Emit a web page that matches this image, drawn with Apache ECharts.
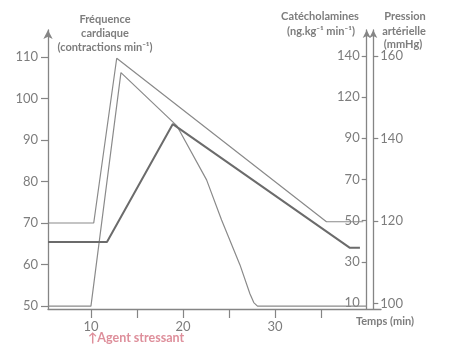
<!DOCTYPE html>
<html>
<head>
<meta charset="utf-8">
<script src="https://cdn.jsdelivr.net/npm/echarts@6/dist/echarts.min.js"></script>
<style>html,body{margin:0;padding:0;background:#fff;}#c{width:450px;height:355px;}</style>
</head>
<body>
<div id="c"></div>
<script>
// ---- data ----
const timeHR = [5.33, 10.3, 12.8, 35.6, 39.6];
const heartRate = [70, 70, 109.7, 70.3, 70.3];

const timeCat = [5.33, 10.0, 13.26, 19.35, 22.57, 24.2, 26.2, 27.28, 27.7, 28.1, 40.0];
const catecholamines = [8.5, 8.5, 121.9, 96.0, 69.8, 50.3, 28.5, 14.5, 10.2, 8.5, 8.5];

const timeBP = [5.33, 11.74, 18.9, 38.15, 39.24];
const pressure = [114.9, 114.9, 143.5, 113.5, 113.5];

// ---- tick labels ----
const timeTicks = [10, 15, 20, 25, 30, 35];
const timeLabels = [10, 20, 30];
const hrTicks = [50, 60, 70, 80, 90, 100, 110];
const catTickValues = [10, 30, 50, 70, 90, 110, 130];
const catTickLabels = ['10', '30', '50', '70', '90', '120', '140'];
const bpTicks = [100, 120, 140, 160];

const zip = (a, b) => a.map((v, i) => [v, b[i]]);

const grey = '#858585';
const txt = '#7d7d7d';
const font = 'Lato, "Noto Sans", sans-serif';

const chart = echarts.init(document.getElementById('c'), null, {renderer: 'canvas'});

const axisLineStyle = {color: grey, width: 1.3};

chart.setOption({
  animation: false,
  backgroundColor: '#fff',
  grid: {left: 48, top: 30, right: 69, bottom: 46, containLabel: false},
  xAxis: {
    type: 'value', min: 5.33, max: 41.53,
    axisLine: {show: true, onZero: false, lineStyle: axisLineStyle},
    axisTick: {show: true, length: 9, customValues: timeTicks, lineStyle: {color: grey, width: 1.2}},
    axisLabel: {customValues: timeLabels, color: txt, fontSize: 13, fontFamily: font, margin: 11},
    splitLine: {show: false}
  },
  yAxis: [
    {
      type: 'value', position: 'left', min: 49.28, max: 116.5,
      axisLine: {show: true, onZero: false, symbol: ['none', 'arrow'], symbolSize: [7, 9], lineStyle: axisLineStyle},
      axisTick: {show: true, length: 7, customValues: hrTicks, lineStyle: {color: grey, width: 1.2}},
      axisLabel: {customValues: hrTicks, color: txt, fontSize: 13, fontFamily: font, margin: 10},
      splitLine: {show: false}
    },
    {
      type: 'value', position: 'left', offset: -318.7, min: 7.08, max: 142.6,
      axisLine: {show: true, onZero: false, symbol: ['none', 'arrow'], symbolSize: [6, 8], lineStyle: axisLineStyle},
      axisTick: {show: true, length: 5, customValues: catTickValues.slice(1), lineStyle: {color: grey, width: 1.2}},
      axisLabel: {
        customValues: catTickValues, color: txt, fontSize: 13, fontFamily: font, margin: 7,
        formatter: v => catTickLabels[catTickValues.indexOf(Math.round(v))]
      },
      splitLine: {show: false}
    },
    {
      type: 'value', position: 'right', offset: -7.7, min: 98.67, max: 166.3,
      axisLine: {show: true, onZero: false, symbol: ['none', 'arrow'], symbolSize: [6, 8], lineStyle: axisLineStyle},
      axisTick: {show: true, length: 5, customValues: bpTicks, lineStyle: {color: grey, width: 1.2}},
      axisLabel: {customValues: bpTicks, color: txt, fontSize: 13, fontFamily: font, margin: 7},
      splitLine: {show: false}
    }
  ],
  series: [
    {
      name: 'Fréquence cardiaque', type: 'line', yAxisIndex: 0,
      data: zip(timeHR, heartRate), showSymbol: false,
      lineStyle: {color: '#8a8a8a', width: 1.2}
    },
    {
      name: 'Catécholamines', type: 'line', yAxisIndex: 1,
      data: zip(timeCat, catecholamines), showSymbol: false,
      lineStyle: {color: '#8a8a8a', width: 1.2}
    },
    {
      name: 'Pression artérielle', type: 'line', yAxisIndex: 2,
      data: zip(timeBP, pressure), showSymbol: false,
      lineStyle: {color: '#6b6b6b', width: 2}
    }
  ],
  graphic: [
    {type: 'text', style: {x: 105, y: 19, text: 'Fréquence', fill: txt, font: 'bold 11px ' + font, textAlign: 'center', textVerticalAlign: 'middle'}},
    {type: 'text', style: {x: 105, y: 33, text: 'cardiaque', fill: txt, font: 'bold 11px ' + font, textAlign: 'center', textVerticalAlign: 'middle'}},
    {type: 'text', style: {x: 105, y: 47, text: '(contractions min⁻¹)', fill: txt, font: 'bold 11px ' + font, textAlign: 'center', textVerticalAlign: 'middle'}},
    {type: 'text', style: {x: 320, y: 16, text: 'Catécholamines', fill: txt, font: 'bold 11px ' + font, textAlign: 'center', textVerticalAlign: 'middle'}},
    {type: 'text', style: {x: 321, y: 31, text: '(ng.kg⁻¹ min⁻¹)', fill: txt, font: 'bold 11px ' + font, textAlign: 'center', textVerticalAlign: 'middle'}},
    {type: 'text', style: {x: 405, y: 16, text: 'Pression', fill: txt, font: 'bold 11px ' + font, textAlign: 'center', textVerticalAlign: 'middle'}},
    {type: 'text', style: {x: 404, y: 31, text: 'artérielle', fill: txt, font: 'bold 11px ' + font, textAlign: 'center', textVerticalAlign: 'middle'}},
    {type: 'text', style: {x: 403, y: 44, text: '(mmHg)', fill: txt, font: 'bold 11px ' + font, textAlign: 'center', textVerticalAlign: 'middle'}},
    {type: 'text', style: {x: 385, y: 321, text: 'Temps (min)', fill: txt, font: 'bold 11px ' + font, textAlign: 'center', textVerticalAlign: 'middle'}},
    {type: 'text', style: {x: 88, y: 338, text: '↑Agent stressant', fill: '#de8f9b', font: 'bold 12.5px ' + font, textAlign: 'left', textVerticalAlign: 'middle'}}
  ]
});
</script>
</body>
</html>
